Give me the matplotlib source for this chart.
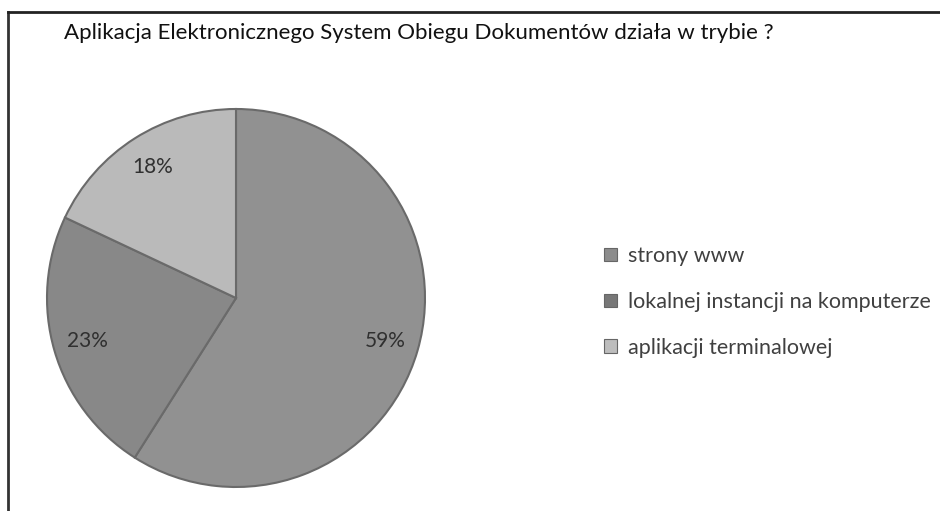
import matplotlib
matplotlib.use("Agg")
import matplotlib.pyplot as plt
from matplotlib.lines import Line2D

# data
labels = ["strony www", "lokalnej instancji na komputerze", "aplikacji terminalowej"]
shares = [59, 23, 18]
colors = ["#919191", "#888888", "#bababa"]
title = "Aplikacja Elektronicznego System Obiegu Dokumentów działa w trybie ?"

plt.rcParams["font.family"] = ["Lato", "DejaVu Sans"]

fig = plt.figure(figsize=(9.4, 5.11), dpi=100)
fig.patch.set_facecolor("white")

# frame lines (top and left only, as in the scan)
fig.add_artist(Line2D([8 / 940, 8 / 940], [0, 1 - 12 / 511],
                      transform=fig.transFigure, color="#333333", lw=2))
fig.add_artist(Line2D([8 / 940, 1], [1 - 12 / 511, 1 - 12 / 511],
                      transform=fig.transFigure, color="#222222", lw=2))

fig.text(64 / 940, 1 - 33 / 511, title, fontsize=16, color="#111111",
         ha="left", va="center")

ax = fig.add_axes([47 / 940, 24 / 511, 378 / 940, 378 / 511])
wedges, texts = ax.pie(
    shares,
    colors=colors,
    startangle=90,
    counterclock=False,
    labels=[f"{v}%" for v in shares],
    labeldistance=0.82,
    wedgeprops=dict(edgecolor="#6a6a6a", linewidth=1.5),
    textprops=dict(fontsize=15, color="#303030", ha="center", va="center"),
)
ax.set_aspect("equal")
ax.set_xlim(-1.0, 1.0)
ax.set_ylim(-1.0, 1.0)

leg_colors = ["#8c8c8c", "#777777", "#bdbdbd"]
handles = [plt.Rectangle((0, 0), 1, 1, facecolor=c, edgecolor="#666666", lw=0.8)
           for c in leg_colors]
fig.legend(handles, labels, loc="center left",
           bbox_to_anchor=(604 / 940, 1 - 302 / 511),
           frameon=False, fontsize=15.5, labelcolor="#404040",
           handlelength=0.6, handleheight=0.6, handletextpad=0.5,
           labelspacing=1.2, borderaxespad=0, borderpad=0)

plt.savefig("out.png", dpi=100)
plt.close()
